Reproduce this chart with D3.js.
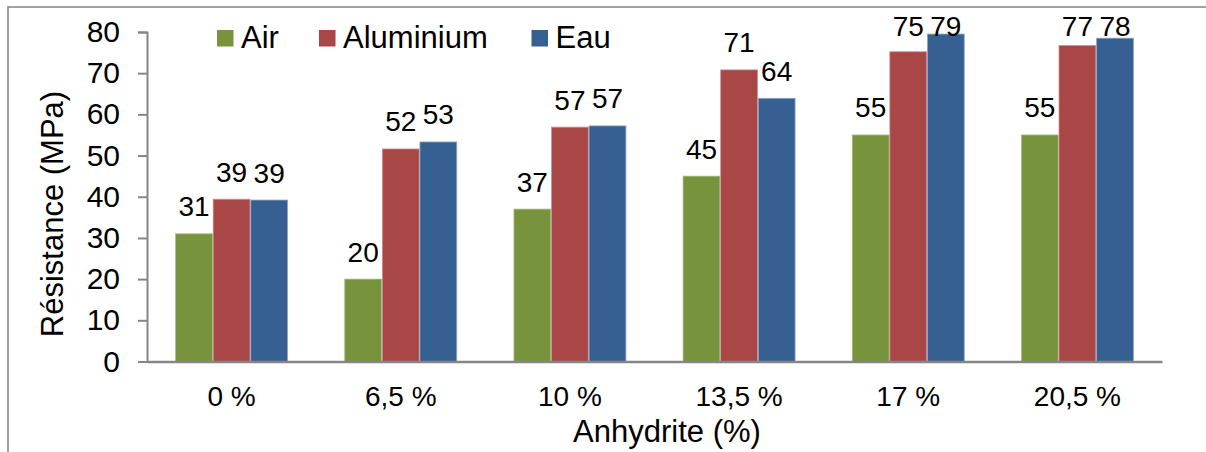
<!DOCTYPE html>
<html>
<head>
<meta charset="utf-8">
<script src="https://cdn.jsdelivr.net/npm/d3@7"></script>
<style>
  html, body { margin: 0; padding: 0; background: #fff; }
  svg { display: block; font-family: "Liberation Sans", Arial, sans-serif; }
</style>
</head>
<body>
<svg id="chart" width="1206" height="452"></svg>
<script>
const categories = ["0 %", "6,5 %", "10 %", "13,5 %", "17 %", "20,5 %"];
const seriesNames = ["Air", "Aluminium", "Eau"];
const airValues = [31, 20, 37, 45, 55, 55];
const aluminiumValues = [39.4, 51.6, 56.9, 70.8, 75.2, 76.7];
const eauValues = [39.2, 53.3, 57.2, 63.9, 79.5, 78.5];
const airLabels = [31, 20, 37, 45, 55, 55];
const aluminiumLabels = [39, 52, 57, 71, 75, 77];
const eauLabels = [39, 53, 57, 64, 79, 78];
const yTicks = [0, 10, 20, 30, 40, 50, 60, 70, 80];
const colors = ["#77933C", "#A94747", "#356091"];
const strokes = ["#a7bd84", "#c98f90", "#8aa6c6"];

const series = [
  { name: seriesNames[0], values: airValues, labels: airLabels },
  { name: seriesNames[1], values: aluminiumValues, labels: aluminiumLabels },
  { name: seriesNames[2], values: eauValues, labels: eauLabels }
];

const svg = d3.select("#chart");
const plot = { left: 147, right: 1162, top: 32, bottom: 361.5 };

// outer frame (cropped on right and bottom)
svg.append("rect")
  .attr("x", 8).attr("y", 7)
  .attr("width", 1210).attr("height", 460)
  .attr("fill", "none").attr("stroke", "#8a8a8a").attr("stroke-width", 1.6);

const x = d3.scaleBand().domain(categories).range([plot.left, plot.right]).paddingInner(0).paddingOuter(0);
const y = d3.scaleLinear().domain([0, 80]).range([plot.bottom, plot.top]);
const bw = x.bandwidth() / 4.5;
const xs = d3.scaleBand().domain(seriesNames).range([0.75 * bw, 3.75 * bw]).padding(0);

// bars
const groups = svg.append("g").selectAll("g").data(categories).join("g")
  .attr("transform", d => `translate(${x(d)},0)`);

series.forEach((s, si) => {
  groups.append("rect")
    .attr("x", (d, i) => xs(s.name) + 0.4)
    .attr("width", xs.bandwidth() - 0.8)
    .attr("y", (d, i) => y(s.values[i]))
    .attr("height", (d, i) => y(0) - y(s.values[i]))
    .attr("fill", colors[si])
    .attr("stroke", strokes[si])
    .attr("stroke-width", 0.8);
});
series.forEach((s, si) => {
  groups.append("text")
    .attr("x", (d, i) => xs(s.name) + xs.bandwidth() / 2)
    .attr("y", (d, i) => Math.max(y(s.values[i]) - 17.5, 36))
    .attr("text-anchor", "middle")
    .attr("font-size", 28)
    .attr("fill", "#000")
    .text((d, i) => s.labels[i]);
});

// y axis
const yAxis = d3.axisLeft(y).tickValues(yTicks).tickSize(9).tickPadding(18);
const gy = svg.append("g").attr("transform", `translate(${plot.left},0)`).call(yAxis);
gy.select(".domain").attr("stroke", "#868686").attr("stroke-width", 2);
gy.selectAll(".tick line").attr("stroke", "#868686").attr("stroke-width", 2);
gy.selectAll(".tick text").attr("font-size", 30).attr("fill", "#000")
  .attr("font-family", "'Liberation Sans', Arial, sans-serif");

// x axis
const xAxis = d3.axisBottom(x).tickSize(0).tickPadding(25);
const gx = svg.append("g").attr("transform", `translate(0,${plot.bottom})`).call(xAxis);
gx.select(".domain").attr("stroke", "#868686").attr("stroke-width", 2.5);
gx.selectAll(".tick text").attr("font-size", 28).attr("fill", "#000")
  .attr("font-family", "'Liberation Sans', Arial, sans-serif");

// axis titles
svg.append("text")
  .attr("transform", "translate(63,214) rotate(-90)")
  .attr("text-anchor", "middle").attr("font-size", 31).attr("fill", "#000")
  .text("Résistance (MPa)");
svg.append("text")
  .attr("x", 667).attr("y", 441.5)
  .attr("text-anchor", "middle").attr("font-size", 31).attr("fill", "#000")
  .text("Anhydrite (%)");

// legend
const legendX = [217, 319, 531.5];
const leg = svg.append("g").selectAll("g").data(seriesNames).join("g")
  .attr("transform", (d, i) => `translate(${legendX[i]},30)`);
leg.append("rect").attr("width", 16.5).attr("height", 16.5)
  .attr("fill", (d, i) => colors[i]);
leg.append("text").attr("x", 24).attr("y", 18.3)
  .attr("font-size", 31).attr("fill", "#000").text(d => d);
</script>
</body>
</html>
